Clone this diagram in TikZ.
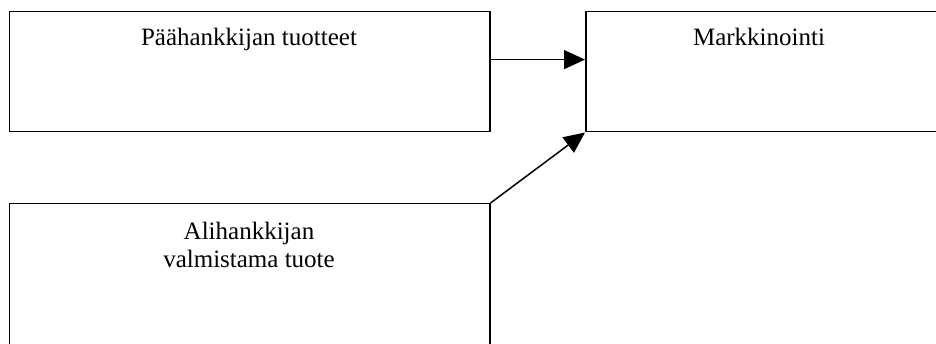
\documentclass[tikz,border=0pt]{standalone}
\usepackage{fontspec}
\setmainfont{Liberation Serif}
\usetikzlibrary{arrows.meta,calc}
\begin{document}
\begin{tikzpicture}[x=1pt,y=-1pt,
  boxstyle/.style={draw=black,line width=1.5pt,rectangle,inner sep=0pt,anchor=north west},
  lbl/.style={inner sep=0pt,anchor=base,font=\fontsize{25}{28}\selectfont},
  arr/.style={draw=black,line width=1.5pt,-{Triangle[length=21pt,width=19pt]}}]
\useasboundingbox (0,0) rectangle (936,344);
\node[boxstyle,minimum width=480.5pt,minimum height=120pt] (b1) at (8.5,11) {};
\node[boxstyle,minimum width=352pt,minimum height=120pt] (b2) at (585,11) {};
\node[boxstyle,minimum width=480.5pt,minimum height=145pt] (b3) at (8.5,203) {};
\node[lbl] (t1) at (249,45.5) {Päähankkijan tuotteet};
\node[lbl] (t2) at (759,45.5) {Markkinointi};
\node[lbl] (t3a) at (249,240) {Alihankkijan};
\node[lbl] (t3b) at (249,268) {valmistama tuote};
\draw[arr] ($(b1.north east)!0.4!(b1.south east)$) -- ($(b2.north west)!0.4!(b2.south west)$);
\draw[arr] (b3.north east) -- (b2.south west);
\end{tikzpicture}
\end{document}
